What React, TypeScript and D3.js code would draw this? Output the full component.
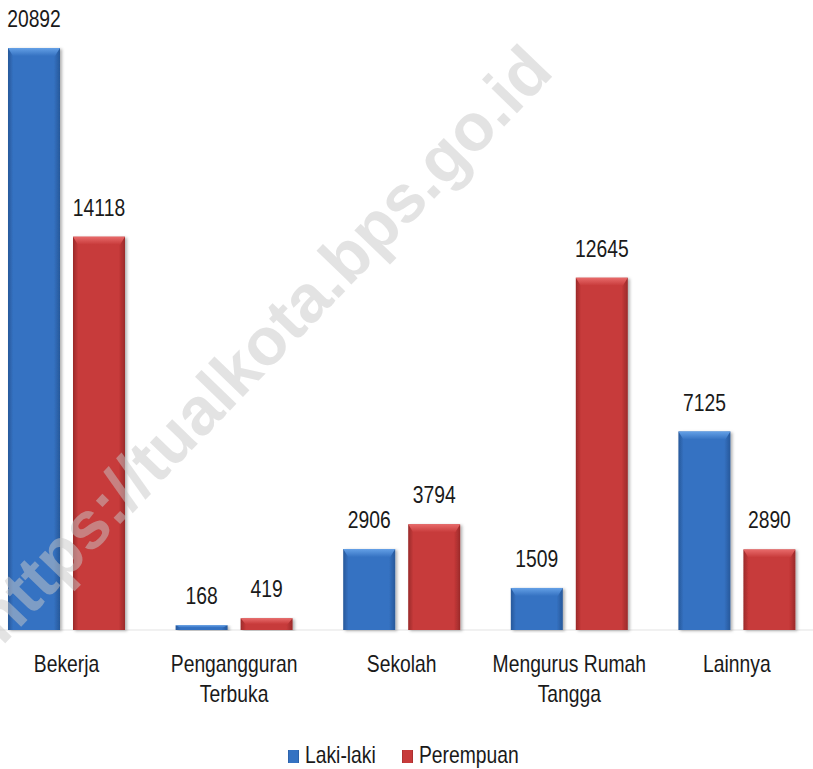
import React from "react";
import * as d3 from "d3";

const categories = ["Bekerja", "Pengangguran Terbuka", "Sekolah", "Mengurus Rumah Tangga", "Lainnya"];
const categoryLines = [["Bekerja"], ["Pengangguran", "Terbuka"], ["Sekolah"], ["Mengurus Rumah", "Tangga"], ["Lainnya"]];
const seriesNames = ["Laki-laki", "Perempuan"];
const lakiLaki = [20892, 168, 2906, 1509, 7125];
const perempuan = [14118, 419, 3794, 12645, 2890];
const watermark = "https://tualkota.bps.go.id";

const W = 813;
const H = 769;
const FONT = "'Liberation Sans', Arial, sans-serif";
const SX = 0.84;

const palette = [
  { main: "#3572c2", edge: "#27589a", top: "#64a0e6", id: "blue" },
  { main: "#c73a3a", edge: "#9a2a2a", top: "#e86a6a", id: "red" },
];

function NText({ x, y, anchor, children }: { x: number; y: number; anchor?: string; children: React.ReactNode }) {
  return (
    <g transform={`translate(${x},${y}) scale(${SX},1)`}>
      <text x={0} y={0} textAnchor={anchor || "start"} fontFamily={FONT} fontSize={23} fill="#1a1a1a">
        {children}
      </text>
    </g>
  );
}

export default function App() {
  const baseY = 630;
  const x0 = d3.scaleBand<string>().domain(categories).range([-17.3, 820.7]).paddingInner(0.302).paddingOuter(0.151);
  const x1 = d3.scaleBand<string>().domain(seriesNames).range([0, x0.bandwidth()]).paddingInner(0.2);
  const y = d3.scaleLinear().domain([0, d3.max(lakiLaki) as number]).range([baseY, 48]);
  const values = [lakiLaki, perempuan];

  return (
    <svg width={W} height={H} style={{ position: "absolute", left: 0, top: 0, background: "#fff" }}>
      <defs>
        {palette.map((p) => (
          <linearGradient key={p.id} id={"g-" + p.id} x1="0" x2="1" y1="0" y2="0">
            <stop offset="0%" stopColor={p.edge} />
            <stop offset="10%" stopColor={p.main} />
            <stop offset="88%" stopColor={p.main} />
            <stop offset="100%" stopColor={p.edge} />
          </linearGradient>
        ))}
        {palette.map((p) => (
          <linearGradient key={p.id + "t"} id={"t-" + p.id} x1="0" x2="0" y1="0" y2="1">
            <stop offset="0%" stopColor={p.top} />
            <stop offset="100%" stopColor={p.main} />
          </linearGradient>
        ))}
        <filter id="shadow" x="-20%" y="-5%" width="140%" height="110%">
          <feDropShadow dx="2" dy="1" stdDeviation="1.5" floodColor="#000" floodOpacity="0.3" />
        </filter>
      </defs>
      <rect width={W} height={H} fill="#fff" />
      <line x1={0} x2={W} y1={baseY} y2={baseY} stroke="#e3e3e3" strokeWidth={1} />
      {categories.map((c, i) => (
        <g key={c} transform={`translate(${x0(c)},0)`}>
          {seriesNames.map((s, k) => {
            const v = values[k][i];
            const bx = x1(s) as number;
            const bw = x1.bandwidth();
            const top = y(v);
            const h = baseY - top;
            const p = palette[k];
            const bev = Math.min(8, h / 2);
            return (
              <g key={s}>
                <rect x={bx} y={top} width={bw} height={h} fill={`url(#g-${p.id})`} filter="url(#shadow)" />
                <polygon
                  points={`${bx},${top} ${bx + bw},${top} ${bx + bw - 5},${top + bev} ${bx + 5},${top + bev}`}
                  fill={`url(#t-${p.id})`}
                />
                <NText x={bx + bw / 2} y={top - 21} anchor="middle">
                  {v}
                </NText>
              </g>
            );
          })}
          {categoryLines[i].map((line, j) => (
            <NText key={j} x={x0.bandwidth() / 2} y={672 + j * 30} anchor="middle">
              {line}
            </NText>
          ))}
        </g>
      ))}
      <g>
        {seriesNames.map((s, k) => {
          const lx = [288, 402][k];
          const p = palette[k];
          return (
            <g key={s}>
              <rect x={lx} y={750} width={11} height={13} fill={`url(#g-${p.id})`} />
              <NText x={lx + 17} y={763}>
                {s}
              </NText>
            </g>
          );
        })}
      </g>
      <text
        x={0}
        y={0}
        transform="translate(266,348) rotate(-46)"
        textAnchor="middle"
        dy="0.26em"
        fontFamily="'Liberation Sans', Arial, sans-serif"
        fontWeight="bold"
        fontSize={67}
        fill="#c8c8c8"
        fillOpacity={0.5}
      >
        {watermark}
      </text>
    </svg>
  );
}
